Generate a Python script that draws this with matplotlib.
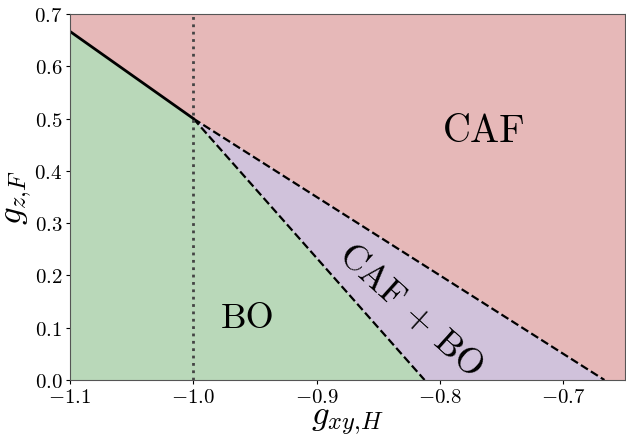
import numpy as np
import matplotlib
matplotlib.use("Agg")
import matplotlib.pyplot as plt

plt.rcParams['font.family'] = 'serif'
plt.rcParams['font.serif'] = ['cmr10']
plt.rcParams['mathtext.fontset'] = 'cm'
plt.rcParams['axes.formatter.use_mathtext'] = True

# phase boundaries (x in g_xy,H, y in g_z,F)
x_lim = [-1.1, -0.65]
y_lim = [0.0, 0.7]
x_tri = -1.0          # triple point
y_tri = 0.5
x_bo_end = -0.8125    # BO / CAF+BO boundary at y=0
x_caf_end = -2.0 / 3  # CAF+BO / CAF boundary at y=0
y_left = 2.0 / 3      # BO / CAF boundary at x=-1.1

xticks = [-1.1, -1.0, -0.9, -0.8, -0.7]
yticks = [0.0, 0.1, 0.2, 0.3, 0.4, 0.5, 0.6, 0.7]

c_caf = '#e6b8b8'
c_bo = '#b9d8b9'
c_mix = '#d0c2db'

fig = plt.figure(figsize=(6.26, 4.39), dpi=100)
ax = fig.add_axes([70 / 626, 1 - 381 / 439, 555 / 626, 366 / 439])

# regions
ax.fill([x_lim[0], x_lim[1], x_lim[1], x_caf_end, x_tri, x_lim[0]],
        [y_lim[1], y_lim[1], 0, 0, y_tri, y_left], color=c_caf, lw=0)
ax.fill([x_lim[0], x_lim[0], x_tri, x_bo_end],
        [0, y_left, y_tri, 0], color=c_bo, lw=0)
ax.fill([x_tri, x_bo_end, x_caf_end], [y_tri, 0, 0], color=c_mix, lw=0)

# boundaries
ax.plot([x_lim[0], x_tri], [y_left, y_tri], 'k-', lw=2)
ax.plot([x_tri, x_bo_end], [y_tri, 0], 'k--', lw=1.6)
ax.plot([x_tri, x_caf_end], [y_tri, 0], 'k--', lw=1.6)
ax.axvline(x_tri, color='#444444', ls=':', lw=2)

ax.text(-0.764, 0.476, 'CAF', fontsize=28, ha='center', va='center')
ax.text(-0.956, 0.119, 'BO', fontsize=26, ha='center', va='center')
ax.text(-0.824, 0.134, r'CAF$\,+\,$BO', fontsize=26, ha='center', va='center',
        rotation=-42)

ax.set_xlim(x_lim)
ax.set_ylim(y_lim)
ax.set_xticks(xticks)
ax.set_yticks(yticks)
ax.tick_params(labelsize=15, length=3, pad=2.5)
for s in ax.spines.values():
    s.set_color('#555555')
ax.set_xlabel(r'$g_{xy{,}H}$', fontsize=25, labelpad=0)
ax.set_ylabel(r'$g_{z{,}F}$', fontsize=25, labelpad=0)

fig.savefig('out.png', dpi=100)
